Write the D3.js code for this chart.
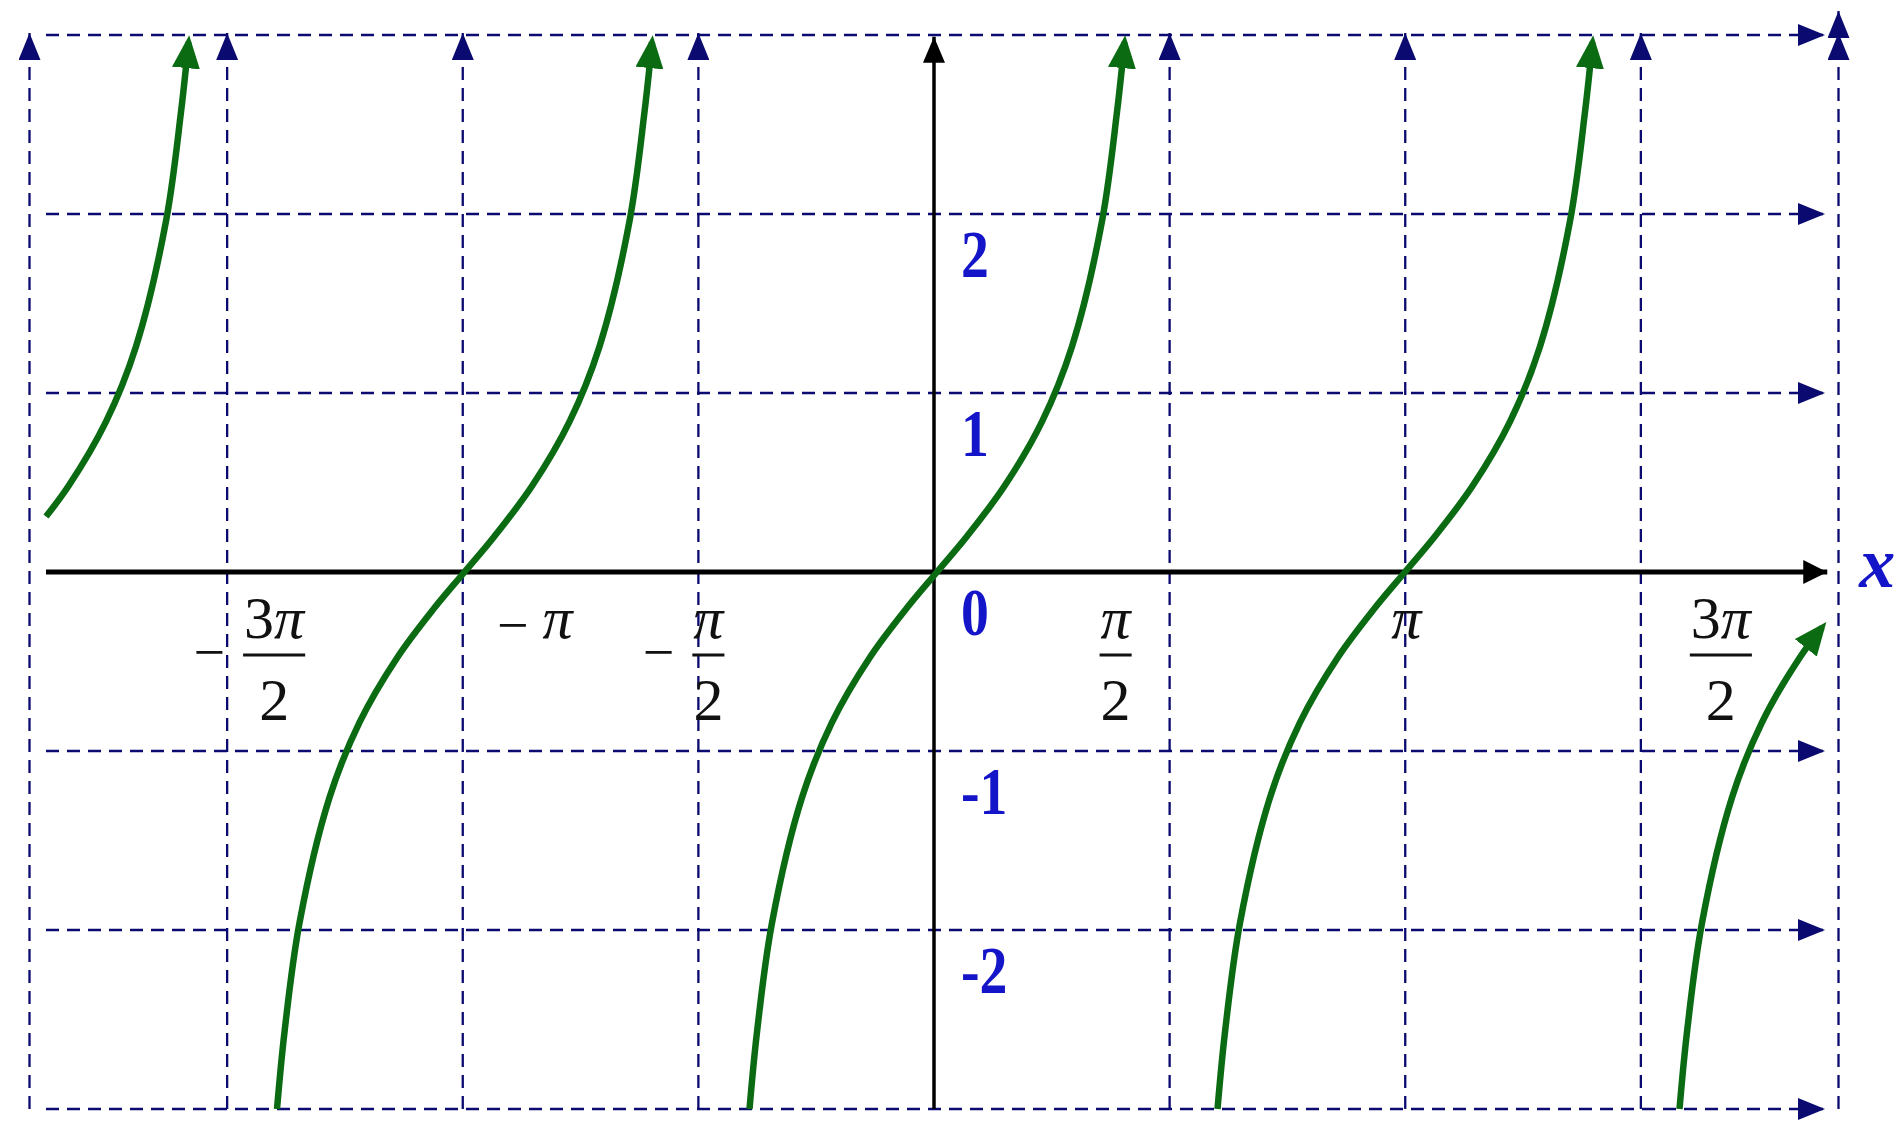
<!DOCTYPE html>
<html>
<head>
<meta charset="utf-8">
<script src="https://cdn.jsdelivr.net/npm/d3@7"></script>
<style>
  html, body { margin: 0; padding: 0; background: #fff; }
  svg { display: block; }
</style>
</head>
<body>
<div class="chart"></div>
<script>
// y = tan x (x in radians)
const branchAX = [-5.92, -5.77, -5.52, -5.32, -5.12, -5.02, -4.97];
const branchAY = [0.31, 0.48, 0.84, 1.26, 1.96, 2.57, 2.96];

const branchBX = [-4.38, -4.33, -4.23, -4.03, -3.83, -3.58, -3.33, -3.13, -2.93, -2.68, -2.43, -2.23, -2.03, -1.93, -1.88];
const branchBY = [-3, -2.57, -1.96, -1.26, -0.84, -0.48, -0.2, 0, 0.2, 0.48, 0.84, 1.26, 1.96, 2.57, 2.96];

const branchCX = [-1.23, -1.18, -1.08, -0.88, -0.68, -0.43, -0.18, 0.02, 0.22, 0.47, 0.72, 0.92, 1.12, 1.22, 1.27];
const branchCY = [-3, -2.57, -1.96, -1.26, -0.84, -0.48, -0.2, 0, 0.2, 0.48, 0.84, 1.26, 1.96, 2.57, 2.96];

const branchDX = [1.89, 1.94, 2.04, 2.24, 2.44, 2.69, 2.94, 3.14, 3.34, 3.59, 3.84, 4.04, 4.24, 4.34, 4.39];
const branchDY = [-3, -2.57, -1.96, -1.26, -0.84, -0.48, -0.2, 0, 0.2, 0.48, 0.84, 1.26, 1.96, 2.57, 2.96];

const branchEX = [4.97, 5.02, 5.12, 5.32, 5.52, 5.77, 5.92];
const branchEY = [-3, -2.57, -1.96, -1.26, -0.84, -0.48, -0.31];

// grid
const frameX = [-6.03, 6.03];           // outer dashed verticals
const gridK = [-3, -2, -1, 1, 2, 3];    // multiples of pi/2
const gridY = [-3, -2, -1, 1, 2, 3];
const lineStart = -5.92;                // left end of the horizontal lines
const lineEnd = 5.94;                   // arrow tip of the horizontal lines

// tick labels
const yTicks = [2, 1, 0, -1, -2];
const yTickLabels = ['2', '1', '0', '-1', '-2'];
const xTickSign = ['−', '−', '−', '', '', ''];
const xTickNum = ['3π', 'π', 'π', 'π', 'π', '3π'];
const xTickDen = ['2', '', '2', '2', '', '2'];

const width = 1896;
const height = 1125;
const navy = '#0a0a70';
const green = '#0b6b12';
const blue = '#1414c8';
const serif = '"Liberation Serif", "Times New Roman", serif';

const xScale = d3.scaleLinear().domain([-6.03, 6.03]).range([29.5, 1838.5]);
const yScale = d3.scaleLinear().domain([-3, 3]).range([1109, 35]);

const svg = d3.select('.chart')
  .append('svg')
  .attr('width', width)
  .attr('height', height)
  .style('background', '#fff');

const defs = svg.append('defs');

function arrow(id, len, wid, color, refX) {
  defs.append('marker')
    .attr('id', id)
    .attr('markerUnits', 'userSpaceOnUse')
    .attr('viewBox', `0 0 ${len} ${wid}`)
    .attr('markerWidth', len)
    .attr('markerHeight', wid)
    .attr('refX', refX)
    .attr('refY', wid / 2)
    .attr('orient', 'auto')
    .append('path')
    .attr('d', `M0,0L${len},${wid / 2}L0,${wid}Z`)
    .attr('fill', color);
}
arrow('gridArrow', 27, 22, navy, 27);
arrow('xArrow', 24, 24, '#000', 24);
arrow('yArrow', 26, 22, '#000', 26);
arrow('curveArrow', 33, 28, green, 26);

// dashed verticals
const vertX = [frameX[0], ...gridK.map(k => k * Math.PI / 2), frameX[1]];
svg.append('g')
  .selectAll('line')
  .data(vertX)
  .join('line')
  .attr('x1', d => xScale(d))
  .attr('x2', d => xScale(d))
  .attr('y1', yScale(-3))
  .attr('y2', yScale(3) - 2)
  .attr('stroke', navy)
  .attr('stroke-width', 2.3)
  .attr('stroke-dasharray', '13,8')
  .attr('marker-end', 'url(#gridArrow)');

// extra arrow above the right frame line
svg.append('line')
  .attr('x1', xScale(frameX[1]))
  .attr('x2', xScale(frameX[1]))
  .attr('y1', yScale(3))
  .attr('y2', yScale(3) - 24)
  .attr('stroke', navy)
  .attr('stroke-width', 2.3)
  .attr('marker-end', 'url(#gridArrow)');

// dashed horizontals
svg.append('g')
  .selectAll('line')
  .data(gridY)
  .join('line')
  .attr('x1', xScale(lineStart))
  .attr('x2', xScale(lineEnd))
  .attr('y1', d => yScale(d))
  .attr('y2', d => yScale(d))
  .attr('stroke', navy)
  .attr('stroke-width', 2.3)
  .attr('stroke-dasharray', '13,8')
  .attr('marker-end', 'url(#gridArrow)');

// axes
svg.append('line')
  .attr('x1', xScale(lineStart))
  .attr('x2', xScale(5.955))
  .attr('y1', yScale(0))
  .attr('y2', yScale(0))
  .attr('stroke', '#000')
  .attr('stroke-width', 5)
  .attr('marker-end', 'url(#xArrow)');

svg.append('line')
  .attr('x1', xScale(0))
  .attr('x2', xScale(0))
  .attr('y1', yScale(-3))
  .attr('y2', yScale(2.99))
  .attr('stroke', '#000')
  .attr('stroke-width', 3.5)
  .attr('marker-end', 'url(#yArrow)');

// curves
const branches = [
  [branchAX, branchAY],
  [branchBX, branchBY],
  [branchCX, branchCY],
  [branchDX, branchDY],
  [branchEX, branchEY]
].map(([xs, ys]) => xs.map((x, i) => [x, ys[i]]));

const lineGenerator = d3.line()
  .x(d => xScale(d[0]))
  .y(d => yScale(d[1]))
  .curve(d3.curveCatmullRom.alpha(0.5));

svg.append('g')
  .selectAll('path')
  .data(branches)
  .join('path')
  .attr('d', lineGenerator)
  .attr('fill', 'none')
  .attr('stroke', green)
  .attr('stroke-width', 6.5)
  .attr('marker-end', 'url(#curveArrow)');

// y labels
svg.append('g')
  .selectAll('text')
  .data(yTicks)
  .join('text')
  .attr('transform', d => `translate(${xScale(0) + 27},${yScale(d) + 63}) scale(0.82,1)`)
  .attr('font-family', serif)
  .attr('font-weight', 'bold')
  .attr('font-size', 68)
  .attr('fill', blue)
  .text((d, i) => yTickLabels[i]);

// x label
svg.append('text')
  .attr('x', xScale(5.955) + 32)
  .attr('y', yScale(0) + 15)
  .attr('font-family', serif)
  .attr('font-weight', 'bold')
  .attr('font-style', 'italic')
  .attr('font-size', 72)
  .attr('fill', blue)
  .text('x');

// x tick labels (hand placed beside their grid lines)
const labelDx = [47, 72, 10, -54, 1, 80];
const numBase = yScale(0) + 66;
const barY = yScale(0) + 83;
const denBase = yScale(0) + 148;

function writeNum(sel, str) {
  for (const ch of str) {
    sel.append('tspan')
      .attr('font-style', ch === 'π' ? 'italic' : 'normal')
      .text(ch);
  }
}

gridK.forEach((k, i) => {
  const cx = xScale(k * Math.PI / 2) + labelDx[i];
  const g = svg.append('g')
    .attr('font-family', serif)
    .attr('font-size', 60)
    .attr('fill', '#111');

  if (xTickDen[i]) {
    const num = g.append('text')
      .attr('x', cx)
      .attr('y', numBase)
      .attr('text-anchor', 'middle');
    writeNum(num, xTickNum[i]);
    const w = num.node().getComputedTextLength() + 2;
    g.append('line')
      .attr('x1', cx - w / 2)
      .attr('x2', cx + w / 2)
      .attr('y1', barY)
      .attr('y2', barY)
      .attr('stroke', '#111')
      .attr('stroke-width', 3);
    g.append('text')
      .attr('x', cx)
      .attr('y', denBase)
      .attr('text-anchor', 'middle')
      .text(xTickDen[i]);
    if (xTickSign[i]) {
      g.append('text')
        .attr('x', cx - w / 2 - 18)
        .attr('y', barY + 16)
        .attr('text-anchor', 'end')
        .attr('font-size', 56)
        .text(xTickSign[i]);
    }
  } else {
    const t = g.append('text')
      .attr('x', cx)
      .attr('y', numBase)
      .attr('text-anchor', 'middle');
    if (xTickSign[i]) {
      t.append('tspan').attr('font-size', 56).attr('dy', 6).text(xTickSign[i] + ' ');
      t.append('tspan').attr('dy', -6).attr('font-style', 'italic').text(xTickNum[i]);
    } else {
      writeNum(t, xTickNum[i]);
    }
  }
});
</script>
</body>
</html>
